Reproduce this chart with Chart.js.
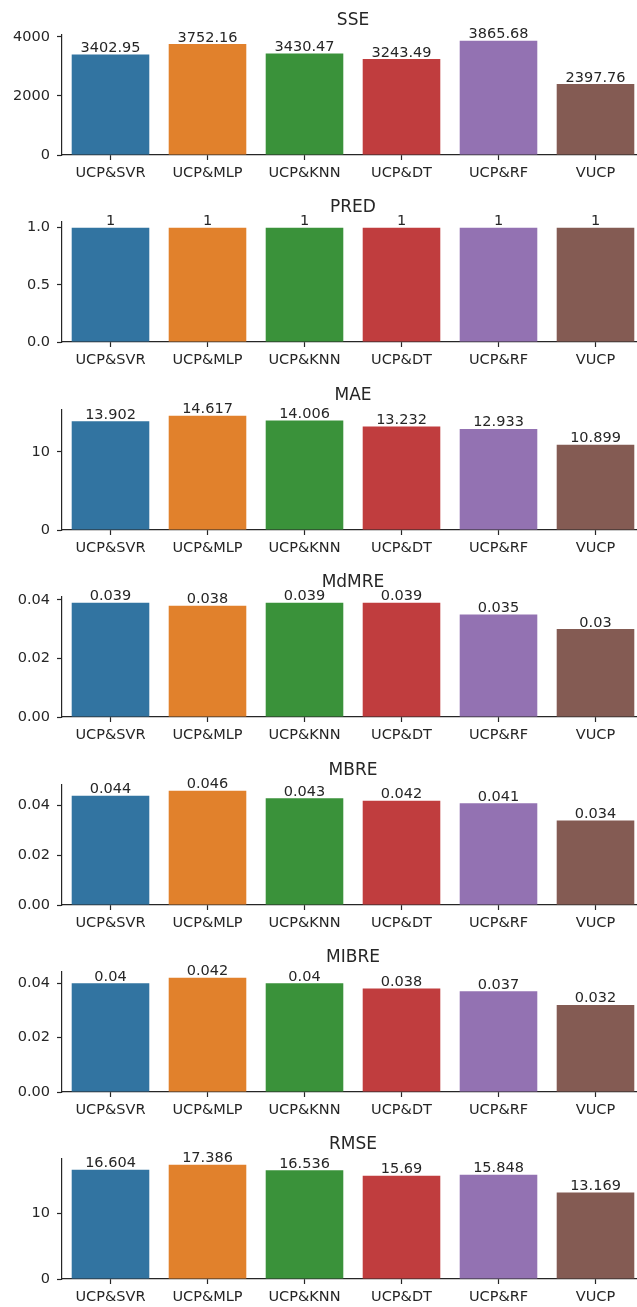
<!DOCTYPE html>
<html>
<head>
<meta charset="utf-8">
<script src="https://cdn.jsdelivr.net/npm/chart.js@4/dist/chart.umd.min.js"></script>
<style>
  html, body { margin: 0; padding: 0; background: #fff; overflow: hidden; }
  #wrap { position: relative; width: 637px; height: 1307px; overflow: hidden; }
  #wrap canvas { position: absolute; left: 0; }
</style>
</head>
<body>
<div id="wrap"></div>
<script>
// categories and bar colours (seaborn default, desaturated)
const categories = ['UCP&SVR', 'UCP&MLP', 'UCP&KNN', 'UCP&DT', 'UCP&RF', 'VUCP'];
const barColors = ['#3274a1', '#e1812c', '#3a923a', '#c03d3e', '#9372b2', '#845b53'];

// one array per metric
const sseValues   = [3402.95, 3752.16, 3430.47, 3243.49, 3865.68, 2397.76];
const predValues  = [1, 1, 1, 1, 1, 1];
const maeValues   = [13.902, 14.617, 14.006, 13.232, 12.933, 10.899];
const mdmreValues = [0.039, 0.038, 0.039, 0.039, 0.035, 0.03];
const mbreValues  = [0.044, 0.046, 0.043, 0.042, 0.041, 0.034];
const mibreValues = [0.04, 0.042, 0.04, 0.038, 0.037, 0.032];
const rmseValues  = [16.604, 17.386, 16.536, 15.69, 15.848, 13.169];

// y tick values and their labels
const sseTicks = [0, 2000, 4000];
const sseTickLabels = ['0', '2000', '4000'];
const predTicks = [0, 0.5, 1];
const predTickLabels = ['0.0', '0.5', '1.0'];
const tenTicks = [0, 10];
const tenTickLabels = ['0', '10'];
const smallTicks = [0, 0.02, 0.04];
const smallTickLabels = ['0.00', '0.02', '0.04'];

const panels = [
  { title: 'SSE',   values: sseValues,   ticks: sseTicks,   labels: sseTickLabels },
  { title: 'PRED',  values: predValues,  ticks: predTicks,  labels: predTickLabels },
  { title: 'MAE',   values: maeValues,   ticks: tenTicks,   labels: tenTickLabels },
  { title: 'MdMRE', values: mdmreValues, ticks: smallTicks, labels: smallTickLabels },
  { title: 'MBRE',  values: mbreValues,  ticks: smallTicks, labels: smallTickLabels },
  { title: 'MIBRE', values: mibreValues, ticks: smallTicks, labels: smallTickLabels },
  { title: 'RMSE',  values: rmseValues,  ticks: tenTicks,   labels: tenTickLabels }
];

const FONT = 'DejaVu Sans';
const INK = '#262626';

// write the value on top of every bar
const barLabels = {
  id: 'barLabels',
  afterDatasetsDraw(chart) {
    const ctx = chart.ctx;
    const meta = chart.getDatasetMeta(0);
    const vals = chart.data.datasets[0].data;
    ctx.save();
    ctx.font = '14.5px "' + FONT + '"';
    ctx.fillStyle = INK;
    ctx.textAlign = 'center';
    ctx.textBaseline = 'alphabetic';
    meta.data.forEach((bar, i) => {
      ctx.fillText(String(vals[i]), bar.x, bar.y - 2.5);
    });
    ctx.restore();
  }
};

const wrap = document.getElementById('wrap');

panels.forEach((p, idx) => {
  const canvas = document.createElement('canvas');
  canvas.width = 644;
  canvas.height = 188;
  canvas.style.width = '644px';
  canvas.style.height = '188px';
  canvas.style.top = Math.round(idx * 187.4) + 'px';
  wrap.appendChild(canvas);

  new Chart(canvas.getContext('2d'), {
    type: 'bar',
    data: {
      labels: categories,
      datasets: [{
        data: p.values,
        backgroundColor: barColors,
        borderWidth: 0,
        categoryPercentage: 0.8,
        barPercentage: 1.0
      }]
    },
    options: {
      responsive: false,
      animation: false,
      devicePixelRatio: 1,
      layout: { padding: 0 },
      plugins: {
        legend: { display: false },
        tooltip: { enabled: false },
        title: {
          display: true,
          text: p.title,
          fullSize: false,
          color: INK,
          font: { family: FONT, size: 17, weight: 'normal', lineHeight: 1.2 },
          padding: { top: 10, bottom: 4.6 }
        }
      },
      scales: {
        x: {
          offset: true,
          grid: { display: true, drawOnChartArea: false, drawTicks: true, tickLength: 5, tickColor: INK, tickWidth: 1.2, offset: false },
          border: { display: true, color: INK, width: 1.2 },
          ticks: { color: INK, font: { family: FONT, size: 14.5 }, padding: 5, maxRotation: 0, autoSkip: false },
          afterFit(scale) { scale.height = 33; }
        },
        y: {
          min: 0,
          max: Math.max(...p.values) * 1.05,
          grid: { display: true, drawOnChartArea: false, drawTicks: true, tickLength: 5, tickColor: INK, tickWidth: 1.2 },
          border: { display: true, color: INK, width: 1.2 },
          ticks: {
            color: INK,
            font: { family: FONT, size: 14.5 },
            padding: 7,
            callback: (v) => {
              const k = p.ticks.indexOf(v);
              return k >= 0 ? p.labels[k] : '';
            }
          },
          afterBuildTicks(scale) { scale.ticks = p.ticks.map(v => ({ value: v })); },
          afterFit(scale) { scale.width = 62; }
        }
      }
    },
    plugins: [barLabels]
  });
});
</script>
</body>
</html>
